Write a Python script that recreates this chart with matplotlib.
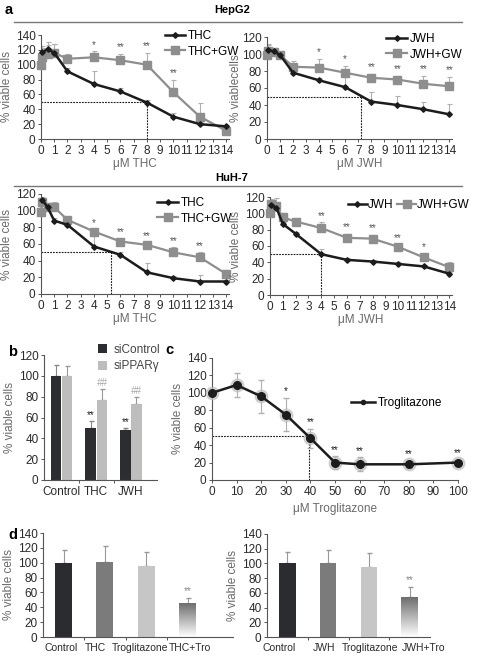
import numpy as np
import matplotlib.pyplot as plt
from matplotlib.lines import Line2D
from matplotlib.colors import LinearSegmentedColormap

plt.rcParams['font.family'] = ['Liberation Sans', 'DejaVu Sans']

W, H = 478, 655

# ---------------- data ----------------
conc = [0, 0.1, 0.5, 1, 2, 4, 6, 8, 10, 12, 14]   # grey (+GW) series
conc_blk = conc[1:]                                  # black series

hep_thc = [117, 121, 116, 91, 74, 64, 49, 30, 20, 17]
hep_thc_err = [6, 9, 12, 4, 18, 4, 3, 5, 3, 2]
hep_thc_gw = [100, 110, 114, 116, 108, 110, 106, 100, 63, 30, 11]
hep_thc_gw_err = [0, 15, 12, 12, 6, 8, 9, 16, 17, 18, 3]
hep_thc_stars = {4: '*', 6: '**', 8: '**', 10: '**'}

hep_jwh = [105, 103, 99, 78, 69, 61, 44, 40, 35, 29]
hep_jwh_err = [6, 4, 3, 3, 3, 12, 11, 11, 9, 12]
hep_jwh_gw = [99, 104, 102, 99, 85, 84, 78, 72, 70, 65, 62]
hep_jwh_gw_err = [0, 8, 4, 3, 7, 10, 8, 5, 4, 9, 11]
hep_jwh_stars = {4: '*', 6: '*', 8: '**', 10: '**', 12: '**', 14: '**'}

huh_thc = [113, 104, 88, 83, 57, 47, 26, 19, 15, 15]
huh_thc_err = [4, 5, 3, 2, 14, 3, 11, 3, 8, 2]
huh_thc_gw = [99, 111, 104, 104, 89, 75, 63, 59, 50, 44, 24]
huh_thc_gw_err = [0, 4, 5, 6, 2, 2, 3, 3, 6, 6, 2]
huh_thc_stars = {4: '*', 6: '**', 8: '**', 10: '**', 12: '**'}

huh_jwh = [110, 107, 87, 75, 50, 43, 41, 38, 35, 26]
huh_jwh_err = [4, 4, 3, 2, 6, 2, 2, 2, 2, 2]
huh_jwh_gw = [100, 112, 109, 95, 90, 82, 70, 69, 59, 46, 34]
huh_jwh_gw_err = [0, 6, 10, 6, 4, 7, 5, 5, 3, 4, 6]
huh_jwh_stars = {4: '**', 6: '**', 8: '**', 10: '**', 12: '*'}

ic50 = {'hep_thc': 8, 'hep_jwh': 7.2, 'huh_thc': 5.3, 'huh_jwh': 4}

# panel b
b_groups = ['Control', 'THC', 'JWH']
b_sictrl = [100, 50, 48]
b_sictrl_err = [10, 7, 2]
b_sippar = [100, 77, 73]
b_sippar_err = [9, 10, 7]

# panel c
tro_conc = [0, 10, 20, 30, 40, 50, 60, 80, 100]
tro_val = [100, 109, 96, 75, 48, 20, 18, 18, 20]
tro_err = [2, 14, 19, 19, 11, 7, 8, 4, 3]
tro_stars = {30: '*', 40: '**', 50: '**', 60: '**', 80: '**', 100: '**'}
tro_ic50 = 39.5

# panel d
d1_labels = ['Control', 'THC', 'Troglitazone', 'THC+Tro']
d1_vals = [100, 101, 96, 45]
d1_err = [17, 22, 18, 8]
d2_labels = ['Control', 'JWH', 'Troglitazone', 'JWH+Tro']
d2_vals = [100, 100, 95, 54]
d2_err = [15, 18, 19, 14]

# ---------------- styling helpers ----------------
BLK = '#1c1c1c'
GRY = '#8e8e8e'
ERR = '#b0b0b0'
TXT = '#2a2a2a'
LBL = '#6a6a6a'
FS = 8.5

fig = plt.figure(figsize=(W / 100, H / 100), dpi=100)


def add_ax(l, t, r, b):
    return fig.add_axes([l / W, 1 - b / H, (r - l) / W, (b - t) / H])


def style(ax):
    for s in ['top', 'right']:
        ax.spines[s].set_visible(False)
    for s in ['left', 'bottom']:
        ax.spines[s].set_color('#555555')
        ax.spines[s].set_linewidth(0.8)
    ax.tick_params(labelsize=FS, length=2.5, width=0.7, color='#555555',
                   labelcolor=TXT, pad=1.5)


def fig_text(x, y, s, **kw):
    fig.text(x / W, 1 - y / H, s, **kw)


def curve_panel(ax, blk, blk_err, gw, gw_err, stars, ic, ymax, xlab, ylab):
    style(ax)
    ax.errorbar(conc_blk, blk, yerr=[np.zeros(len(blk)), blk_err], fmt='none',
                ecolor=ERR, elinewidth=0.8, capsize=1.8, capthick=0.8, zorder=2)
    ax.errorbar(conc, gw, yerr=[np.zeros(len(gw)), gw_err], fmt='none',
                ecolor=ERR, elinewidth=0.8, capsize=1.8, capthick=0.8, zorder=2)
    ax.plot(conc, gw, color=GRY, lw=1.6, marker='s', ms=5.5, mfc=GRY, mec=GRY,
            zorder=3, clip_on=False)
    ax.plot(conc_blk, blk, color=BLK, lw=1.8, marker='D', ms=2.8, zorder=4,
            clip_on=False)
    top = {}
    for x, v, e in zip(conc_blk, blk, blk_err):
        top[x] = v + e
    for x, v, e in zip(conc, gw, gw_err):
        top[x] = max(top.get(x, 0), v + e)
    for x, s in stars.items():
        ax.text(x, top[x] + 2, s, ha='center', va='bottom', fontsize=7,
                color='#555555')
    ax.plot([0, ic], [50, 50], ls=(0, (1.6, 1)), color=BLK, lw=0.8, zorder=1)
    ax.plot([ic, ic], [0, 50], ls=(0, (1.6, 1)), color=BLK, lw=0.8, zorder=1)
    ax.set_xlim(0, 14.2)
    ax.set_ylim(0, ymax)
    ax.set_xticks(range(15))
    ax.set_yticks(range(0, ymax + 1, 20))
    ax.set_xlabel(xlab, fontsize=FS, color=LBL, labelpad=1)
    ax.set_ylabel(ylab, fontsize=FS, color=LBL, labelpad=2)


def handles():
    return [Line2D([], [], color=BLK, lw=1.8, marker='D', ms=2.8),
            Line2D([], [], color=GRY, lw=1.6, marker='s', ms=5.5)]


# ---------------- headers ----------------
fig_text(5, 10, 'a', fontsize=10.5, fontweight='bold', va='center')
fig_text(232, 10, 'HepG2', fontsize=8, fontweight='bold', va='center', ha='center')
fig.add_artist(Line2D([14 / W, 462 / W], [1 - 22 / H, 1 - 22 / H], color='#777777', lw=1))
fig_text(232, 178, 'HuH-7', fontsize=8, fontweight='bold', va='center', ha='center')
fig.add_artist(Line2D([14 / W, 462 / W], [1 - 186 / H, 1 - 186 / H], color='#777777', lw=1))

# ---------------- panel a ----------------
ax1 = add_ax(41, 35, 229, 139)
curve_panel(ax1, hep_thc, hep_thc_err, hep_thc_gw, hep_thc_gw_err, hep_thc_stars,
            ic50['hep_thc'], 140, 'μM THC', '% viable cells')
ax1.legend(handles(), ['THC', 'THC+GW'], loc='upper left', frameon=False,
           fontsize=FS, handlelength=1.7, handletextpad=0.2, labelspacing=0.3,
           borderpad=0, borderaxespad=0,
           bbox_to_anchor=(165 / W, 1 - 30 / H), bbox_transform=fig.transFigure)

ax2 = add_ax(267, 37, 452, 139)
curve_panel(ax2, hep_jwh, hep_jwh_err, hep_jwh_gw, hep_jwh_gw_err, hep_jwh_stars,
            ic50['hep_jwh'], 120, 'μM JWH', '% viablecells')
ax2.yaxis.set_label_coords(-0.135, 0.5)
ax2.legend(handles(), ['JWH', 'JWH+GW'], loc='upper left', frameon=False,
           fontsize=FS, handlelength=1.8, handletextpad=0.2, labelspacing=0.3,
           borderpad=0, borderaxespad=0,
           bbox_to_anchor=(386 / W, 1 - 33 / H), bbox_transform=fig.transFigure)

ax3 = add_ax(41, 194, 229, 294)
curve_panel(ax3, huh_thc, huh_thc_err, huh_thc_gw, huh_thc_gw_err, huh_thc_stars,
            ic50['huh_thc'], 120, 'μM THC', '% viable cells')
ax3.legend(handles(), ['THC', 'THC+GW'], loc='upper left', frameon=False,
           fontsize=FS, handlelength=1.8, handletextpad=0.2, labelspacing=0.3,
           borderpad=0, borderaxespad=0,
           bbox_to_anchor=(157 / W, 1 - 197 / H), bbox_transform=fig.transFigure)

ax4 = add_ax(270, 197, 452, 295)
curve_panel(ax4, huh_jwh, huh_jwh_err, huh_jwh_gw, huh_jwh_gw_err, huh_jwh_stars,
            ic50['huh_jwh'], 120, 'μM JWH', '% viable cells')
ax4.legend(handles(), ['JWH', 'JWH+GW'], loc='upper left', frameon=False,
           fontsize=FS, handlelength=1.6, handletextpad=0.1, ncol=2,
           columnspacing=0.3, borderpad=0, borderaxespad=0,
           bbox_to_anchor=(348 / W, 1 - 199 / H), bbox_transform=fig.transFigure)

# ---------------- panel b ----------------
fig_text(8, 352, 'b', fontsize=10.5, fontweight='bold', va='center')
axb = add_ax(44, 355, 157, 480)
style(axb)
xb = np.arange(len(b_groups))
bw = 0.3
c_dark, c_light = '#2c2d31', '#bdbdbd'
axb.bar(xb - 0.16, b_sictrl, bw, color=c_dark, label='siControl', zorder=2)
axb.bar(xb + 0.16, b_sippar, bw, color=c_light, label='siPPARγ', zorder=2)
axb.errorbar(xb - 0.16, b_sictrl, yerr=[np.zeros(3), b_sictrl_err], fmt='none',
             ecolor='#888888', elinewidth=0.8, capsize=1.8, zorder=1)
axb.errorbar(xb + 0.16, b_sippar, yerr=[np.zeros(3), b_sippar_err], fmt='none',
             ecolor='#999999', elinewidth=0.8, capsize=1.8, zorder=1)
for i in [1, 2]:
    axb.text(xb[i] - 0.16, b_sictrl[i] + b_sictrl_err[i] + 1, '**', ha='center',
             va='bottom', fontsize=7, color=BLK)
    axb.text(xb[i] + 0.16, b_sippar[i] + b_sippar_err[i] + 1, '##', ha='center',
             va='bottom', fontsize=7, color='#aaaaaa', style='italic')
axb.set_xlim(-0.5, 2.75)
axb.set_ylim(0, 120)
axb.set_yticks(range(0, 121, 20))
axb.set_xticks(xb)
axb.set_xticklabels(b_groups)
axb.tick_params(axis='x', length=0, pad=4)
axb.set_xticks([0.5, 1.5], minor=True)
axb.tick_params(axis='x', which='minor', length=2.5, width=0.7, color='#555555')
axb.set_ylabel('% viable cells', fontsize=FS, color=LBL, labelpad=2)
axb.legend(loc='upper left', frameon=False, fontsize=FS, handlelength=0.8,
           handleheight=0.8, handletextpad=0.5, labelspacing=0.35,
           borderpad=0, borderaxespad=0,
           bbox_to_anchor=(98 / W, 1 - 344 / H), bbox_transform=fig.transFigure,
           labelcolor='#444444')

# ---------------- panel c ----------------
fig_text(165, 350, 'c', fontsize=10.5, fontweight='bold', va='center')
axc = add_ax(212, 358, 458, 480)
style(axc)
axc.errorbar(tro_conc, tro_val, yerr=tro_err, fmt='none', ecolor=ERR,
             elinewidth=0.8, capsize=2, zorder=2)
axc.plot(tro_conc, tro_val, 'o', ms=9, color='#bbbbbb', alpha=0.6, zorder=3,
         clip_on=False)
axc.plot(tro_conc, tro_val, color=BLK, lw=1.8, marker='o', ms=5.5, zorder=4,
         clip_on=False)
for x, s in tro_stars.items():
    i = tro_conc.index(x)
    axc.text(x, tro_val[i] + tro_err[i] + 2, s, ha='center', va='bottom',
             fontsize=7, color=BLK)
axc.plot([0, tro_ic50], [50, 50], ls=(0, (1.6, 1)), color=BLK, lw=0.8, zorder=1)
axc.plot([tro_ic50, tro_ic50], [0, 50], ls=(0, (1.6, 1)), color=BLK, lw=0.8, zorder=1)
axc.set_xlim(0, 100)
axc.set_ylim(0, 140)
axc.set_xticks(range(0, 101, 10))
axc.set_yticks(range(0, 141, 20))
axc.set_xlabel('μM Troglitazone', fontsize=FS, color=LBL, labelpad=4)
axc.set_ylabel('% viable cells', fontsize=FS, color=LBL, labelpad=2)
axc.legend([Line2D([], [], color=BLK, lw=1.8, marker='o', ms=3)], ['Troglitazone'],
           loc='center left', frameon=False, fontsize=FS, handlelength=2,
           handletextpad=0.3, borderpad=0, borderaxespad=0,
           bbox_to_anchor=(351 / W, 1 - 403 / H), bbox_transform=fig.transFigure)

# ---------------- panel d ----------------
fig_text(8, 535, 'd', fontsize=10.5, fontweight='bold', va='center')
grad = LinearSegmentedColormap.from_list('g', ['#ffffff', '#6e6e6e'])
bar_cols = ['#2b2c30', '#7b7b7b', '#c6c6c6']


def d_panel(ax, labels, vals, err, xmax, label_pos):
    style(ax)
    x = np.arange(len(labels))
    w = 0.41
    ax.bar(x[:3], vals[:3], w, color=bar_cols, zorder=2)
    ax.imshow(np.linspace(0, 1, 100).reshape(-1, 1), cmap=grad, aspect='auto',
              origin='lower', extent=[x[3] - w / 2, x[3] + w / 2, 0, vals[3]],
              zorder=2)
    ax.errorbar(x, vals, yerr=[np.zeros(4), err], fmt='none', ecolor='#999999',
                elinewidth=0.8, capsize=1.8, zorder=1)
    ax.text(x[3], vals[3] + err[3] + 2, '**', ha='center', va='bottom',
            fontsize=7, color='#888888')
    ax.set_xlim(-0.5, xmax)
    ax.set_ylim(0, 140)
    ax.set_yticks(range(0, 141, 20))
    ax.set_xticks(label_pos)
    ax.set_xticklabels(labels, fontsize=7.5)
    ax.tick_params(axis='x', length=0, pad=4)
    ax.set_xticks([0.5, 1.5, 2.5], minor=True)
    ax.tick_params(axis='x', which='minor', length=2.5, width=0.7, color='#555555')
    ax.set_ylabel('% viable cells', fontsize=FS, color=LBL, labelpad=2)


axd1 = add_ax(43, 533, 233, 637)
d_panel(axd1, d1_labels, d1_vals, d1_err, 4.1, [-0.05, 0.78, 1.85, 3.05])
axd2 = add_ax(267, 534, 430, 637)
d_panel(axd2, d2_labels, d2_vals, d2_err, 3.5, [-0.2, 0.9, 2.02, 3.33])

fig.savefig('out.png', dpi=100)
